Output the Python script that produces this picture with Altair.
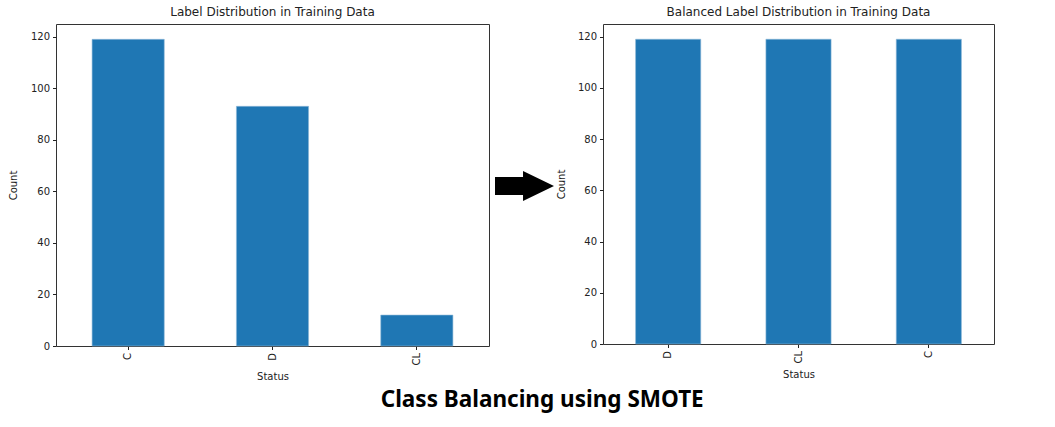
import altair as alt
import pandas as pd

# Data
before_status = ["C", "D", "CL"]
before_count = [119, 93, 12]
after_status = ["D", "CL", "C"]
after_count = [119, 119, 119]

BAR = "#1f77b4"
FONT = "DejaVu Sans"

df_before = pd.DataFrame({"Status": before_status, "Count": before_count})
df_after = pd.DataFrame({"Status": after_status, "Count": after_count})

yticks = [0, 20, 40, 60, 80, 100, 120]


def bar_chart(df, order, title, w, h, ytp):
    return (
        alt.Chart(df)
        .mark_bar(color=BAR, stroke="#8fb8d8", strokeWidth=0.6)
        .encode(
            x=alt.X(
                "Status:N",
                sort=order,
                scale=alt.Scale(paddingInner=0.5, paddingOuter=0.25),
                axis=alt.Axis(title="Status", labelAngle=270, titlePadding=6, grid=False),
            ),
            y=alt.Y(
                "Count:Q",
                scale=alt.Scale(domain=[0, 124.95], nice=False, zero=True),
                axis=alt.Axis(title="Count", values=yticks, titlePadding=ytp, grid=False),
            ),
        )
        .properties(
            width=w,
            height=h,
            title=alt.TitleParams(title, fontSize=12, font=FONT, fontWeight="normal",
                                  color="#222", offset=5),
        )
    )


left = bar_chart(df_before, before_status, "Label Distribution in Training Data", 433, 322, 12)
right = bar_chart(df_after, after_status, "Balanced Label Distribution in Training Data", 391, 320, 11)

arrow_path = "M-1,-0.305 L-0.05,-0.305 L-0.05,-0.51 L1,0 L-0.05,0.51 L-0.05,0.305 L-1,0.305 Z"
arrow = (
    alt.Chart(pd.DataFrame({"a": [0]}))
    .mark_point(shape=arrow_path, filled=True, color="black", opacity=1, size=3481, strokeWidth=0)
    .encode(x=alt.value(33.5), y=alt.value(162))
    .properties(width=59, height=322, view=alt.ViewBackground(stroke="transparent"))
)

chart = (
    alt.hconcat(left, arrow, right, spacing=0)
    .properties(
        background="white",
        padding={"left": 7, "top": 5, "right": 5, "bottom": 5},
        title=alt.TitleParams(
            "Class Balancing using SMOTE",
            orient="bottom",
            anchor="middle",
            fontSize=22.5,
            font="Noto Sans",
            fontWeight="bold",
            color="black",
            offset=7,
            dx=41,
        ),
    )
    .configure_view(stroke="#333", strokeWidth=1)
    .configure_axis(
        labelFont=FONT,
        titleFont=FONT,
        labelFontSize=10,
        titleFontSize=10,
        titleFontWeight="normal",
        labelColor="#222",
        titleColor="#222",
        tickColor="#222",
        tickSize=3.5,
        labelPadding=3,
        domain=False,
        grid=False,
    )
)

chart.save("out.html", embed_options={"renderer": "svg", "actions": False})
